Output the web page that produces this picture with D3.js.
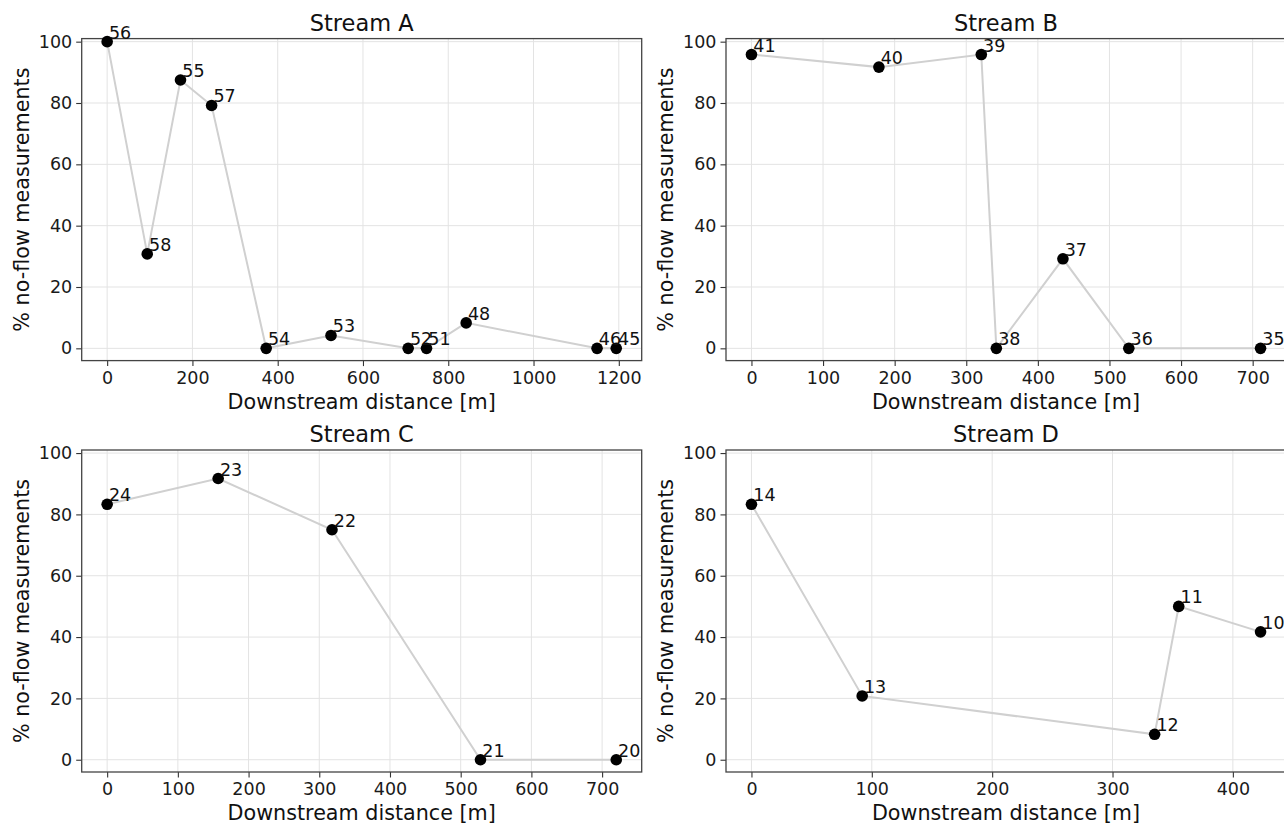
<!DOCTYPE html>
<html>
<head>
<meta charset="utf-8">
<script src="https://cdn.jsdelivr.net/npm/d3@7"></script>
<style>
  html, body { margin: 0; padding: 0; background: #fff; }
  svg { display: block; font-family: "DejaVu Sans", sans-serif; }
</style>
</head>
<body>
<svg id="chart" width="1284" height="825"></svg>
<script>
// ---- Data ----
const titles = ["Stream A", "Stream B", "Stream C", "Stream D"];

const streamA_ids  = ["56", "58", "55", "57", "54", "53", "52", "51", "48", "46", "45"];
const streamA_dist = [0, 94, 172, 245, 373, 525, 706, 749, 842, 1149, 1194];
const streamA_pct  = [100, 30.8, 87.5, 79.2, 0, 4.2, 0, 0, 8.3, 0, 0];

const streamB_ids  = ["41", "40", "39", "38", "37", "36", "35"];
const streamB_dist = [0, 178, 321, 342, 435, 527, 711];
const streamB_pct  = [95.8, 91.7, 95.8, 0, 29.2, 0, 0];

const streamC_ids  = ["24", "23", "22", "21", "20"];
const streamC_dist = [0, 157, 318, 528, 720];
const streamC_pct  = [83.3, 91.7, 75.0, 0, 0];

const streamD_ids  = ["14", "13", "12", "11", "10"];
const streamD_dist = [0, 92, 335, 355, 423];
const streamD_pct  = [83.3, 20.8, 8.3, 50.0, 41.7];

const xTicksA = [0, 200, 400, 600, 800, 1000, 1200];
const xTicksB = [0, 100, 200, 300, 400, 500, 600, 700];
const xTicksC = [0, 100, 200, 300, 400, 500, 600, 700];
const xTicksD = [0, 100, 200, 300, 400];
const yTicks  = [0, 20, 40, 60, 80, 100];

const xLabel = "Downstream distance [m]";
const yLabel = "% no-flow measurements";

// ---- Layout ----
const svg = d3.select("#chart");
const panelW = 560, panelH = 322;
const panels = [
  { left: 81.7, top: 38.6, ids: streamA_ids, x: streamA_dist, y: streamA_pct, ticks: xTicksA },
  { left: 726,  top: 38.6, ids: streamB_ids, x: streamB_dist, y: streamB_pct, ticks: xTicksB },
  { left: 81.7, top: 450,  ids: streamC_ids, x: streamC_dist, y: streamC_pct, ticks: xTicksC },
  { left: 726,  top: 450,  ids: streamD_ids, x: streamD_dist, y: streamD_pct, ticks: xTicksD }
];

panels.forEach((p, i) => {
  const g = svg.append("g").attr("transform", `translate(${p.left},${p.top})`);
  const xmax = d3.max(p.x), xmin = d3.min(p.x);
  const m = (xmax - xmin) * 0.05;
  const x = d3.scaleLinear().domain([xmin - m, xmax + m]).range([0, panelW]);
  const y = d3.scaleLinear().domain([-4, 101]).range([panelH, 0]);

  // grid
  g.append("g").selectAll("line.gx").data(p.ticks).join("line")
    .attr("x1", d => x(d)).attr("x2", d => x(d))
    .attr("y1", 0).attr("y2", panelH)
    .attr("stroke", "#e3e3e3").attr("stroke-width", 1);
  g.append("g").selectAll("line.gy").data(yTicks).join("line")
    .attr("x1", 0).attr("x2", panelW)
    .attr("y1", d => y(d)).attr("y2", d => y(d))
    .attr("stroke", "#e3e3e3").attr("stroke-width", 1);

  // axes
  const xAxis = d3.axisBottom(x).tickValues(p.ticks).tickSize(5.5).tickPadding(5).tickFormat(d3.format("d"));
  const yAxis = d3.axisLeft(y).tickValues(yTicks).tickSize(5.5).tickPadding(4).tickFormat(d3.format("d"));
  const gx = g.append("g").attr("transform", `translate(0,${panelH})`).call(xAxis);
  const gy = g.append("g").call(yAxis);
  [gx, gy].forEach(a => {
    a.select(".domain").remove();
    a.selectAll(".tick line").attr("stroke", "#333").attr("stroke-width", 1.1);
    a.selectAll(".tick text").attr("font-size", 17.5).attr("fill", "#1a1a1a")
      .attr("font-family", "DejaVu Sans, sans-serif");
  });

  // frame
  g.append("rect").attr("x", 0).attr("y", 0).attr("width", panelW).attr("height", panelH)
    .attr("fill", "none").attr("stroke", "#444").attr("stroke-width", 1.3);

  // line
  const pts = p.x.map((d, k) => ({ x: d, y: p.y[k], id: p.ids[k] }));
  g.append("path").datum(pts)
    .attr("d", d3.line().x(d => x(d.x)).y(d => y(d.y)))
    .attr("fill", "none").attr("stroke", "#d0d0d0").attr("stroke-width", 2);

  // points
  g.selectAll("circle.pt").data(pts).join("circle")
    .attr("cx", d => x(d.x)).attr("cy", d => y(d.y)).attr("r", 5.8).attr("fill", "#000");

  // labels
  g.selectAll("text.lbl").data(pts).join("text")
    .attr("x", d => x(d.x) + 1.8).attr("y", d => y(d.y) - 3)
    .attr("font-size", 17.5).attr("fill", "#111").text(d => d.id);

  // title
  g.append("text").attr("x", panelW / 2).attr("y", -8)
    .attr("text-anchor", "middle").attr("font-size", 22.5).attr("fill", "#111")
    .text(titles[i]);

  // x label
  g.append("text").attr("x", panelW / 2).attr("y", panelH + 48)
    .attr("text-anchor", "middle").attr("font-size", 20.7).attr("fill", "#111")
    .text(xLabel);

  // y label
  g.append("text")
    .attr("transform", `translate(${-53},${panelH / 2}) rotate(-90)`)
    .attr("text-anchor", "middle").attr("font-size", 20.7).attr("fill", "#111")
    .text(yLabel);
});
</script>
</body>
</html>
